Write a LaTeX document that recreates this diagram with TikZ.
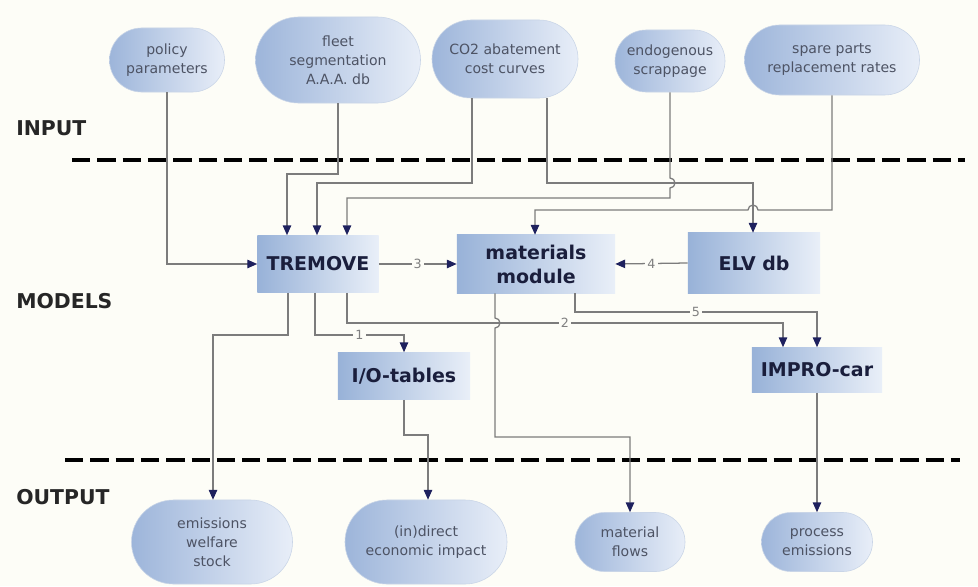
\documentclass[tikz,border=0pt]{standalone}
\usepackage{fontspec}
\setmainfont{DejaVu Sans}
\usepackage{tikz}
\usetikzlibrary{arrows.meta, shapes.misc}
\definecolor{bgcream}{HTML}{FDFDF7}
\definecolor{pilldark}{HTML}{9DB5DA}
\definecolor{pilllight}{HTML}{E8EEF8}
\definecolor{pillrim}{HTML}{C9D5E7}
\definecolor{boxdark}{HTML}{98B2D8}
\definecolor{boxlight}{HTML}{E9EFF8}
\definecolor{wiregray}{HTML}{7C7C7C}
\definecolor{tipnavy}{HTML}{1E215E}
\definecolor{boxtext}{HTML}{1A1E3C}
\definecolor{pilltext}{HTML}{4D5364}

\begin{document}
\begin{tikzpicture}[x=0.025cm, y=0.025cm,
    pill/.style={rounded rectangle, draw=pillrim, left color=pilldark, right color=pilllight, text=pilltext, align=center, inner sep=0pt, font=\fontsize{10}{13.5}\selectfont},
    model/.style={rectangle, left color=boxdark, right color=boxlight, text=boxtext, align=center, inner sep=0pt, font=\fontsize{13.5}{17}\selectfont\bfseries},
    layer/.style={anchor=west, inner sep=0pt, text=black!85, font=\fontsize{14.5}{16}\selectfont\bfseries},
    wire/.style={draw=wiregray, line width=0.9pt, -{Triangle[length=7pt,width=6pt,color=tipnavy]}},
    num/.style={fill=bgcream, text=black!50, inner sep=1.5pt, font=\fontsize{9}{10}\selectfont},
    sep/.style={line width=2.2pt, dash pattern=on 13pt off 5pt}]
            \fill[bgcream] (0,0) rectangle (978,-586);
            \useasboundingbox (0,0) rectangle (978,-586);

            \node[layer] at (16,-128) (inlab) {INPUT};
            \node[layer] at (16,-301) (modlab) {MODELS};
            \node[layer] at (16,-497) (outlab) {OUTPUT};
            \draw[sep] (72,-160) -- (965,-160);
            \draw[sep] (65,-460) -- (960,-460);

            \node[pill, minimum width=2.875cm, minimum height=1.6cm] at (167,-60) (pol) {policy\\parameters};
            \node[pill, minimum width=4.125cm, minimum height=2.15cm] at (338,-60) (fleet) {fleet\\segmentation\\A.A.A. db};
            \node[pill, minimum width=3.65cm, minimum height=1.95cm] at (505,-59) (co2) {CO2 abatement\\cost curves};
            \node[pill, minimum width=2.75cm, minimum height=1.55cm] at (670,-61) (endo) {endogenous\\scrappage};
            \node[pill, minimum width=4.375cm, minimum height=1.75cm] at (832,-60) (spare) {spare parts\\replacement rates};

            \node[model, minimum width=3.025cm, minimum height=1.425cm] at (318,-264) (tre) {TREMOVE};
            \node[model, minimum width=3.95cm, minimum height=1.45cm] at (536,-264) (mat) {materials\\module};
            \node[model, minimum width=3.3cm, minimum height=1.5cm] at (754,-263) (elv) {ELV db};
            \node[model, minimum width=3.3cm, minimum height=1.175cm] at (404,-376) (io) {I/O-tables};
            \node[model, minimum width=3.25cm, minimum height=1.125cm] at (817,-370) (imp) {IMPRO-car};

            \node[pill, minimum width=4.025cm, minimum height=2.1cm] at (212,-542) (emi) {emissions\\welfare\\stock};
            \node[pill, minimum width=4.05cm, minimum height=2.1cm] at (426,-542) (ind) {(in)direct\\economic impact};
            \node[pill, minimum width=2.75cm, minimum height=1.475cm] at (630,-542) (flo) {material\\flows};
            \node[pill, minimum width=2.775cm, minimum height=1.475cm] at (817,-542) (pro) {process\\emissions};

            \draw[wire] (pol.south) |- (tre.west);
            \draw[wire] (fleet.south) |- (287,-174) -- (tre.north -| 287,0);
            \draw[wire] (co2.south -| 472,0) |- (317,-183) -- (tre.north -| 317,0);
            \draw[wire] (co2.south -| 547,0) |- (753,-183) -- (elv.north -| 753,0);
            \draw[wire] (endo.south) -- (670,-178) arc[start angle=90, end angle=-90, radius=0.125cm] -- (670,-198) -| (tre.north -| 347,0);
            \draw[wire] (spare.south) |- (758,-210) arc[start angle=0, end angle=180, radius=0.125cm] -| (mat.north -| 535,0);
            \draw[wire] (tre.east) -- node[num]{3} (mat.west);
            \draw[wire] (elv.west) -- node[num]{4} (mat.east);
            \draw[wire] (tre.south -| 288,0) |- (213,-335) -- (emi.north -| 213,0);
            \draw[wire] (tre.south -| 315,0) |- node[num, pos=0.75]{1} (404,-335) -- (io.north);
            \draw[wire] (tre.south -| 347,0) |- node[num, pos=0.75]{2} (783,-323) -- (imp.north -| 783,0);
            \draw[wire] (mat.south -| 575,0) |- node[num, pos=0.75]{5} (817,-312) -- (imp.north);
            \draw[wire] (mat.south -| 495,0) -- (495,-318) arc[start angle=90, end angle=-90, radius=0.125cm] -- (495,-437) -| (flo.north);
            \draw[wire] (io.south) |- (428,-435) -- (ind.north -| 428,0);
            \draw[wire] (imp.south) -- (pro.north);
        \end{tikzpicture}
\end{document}
